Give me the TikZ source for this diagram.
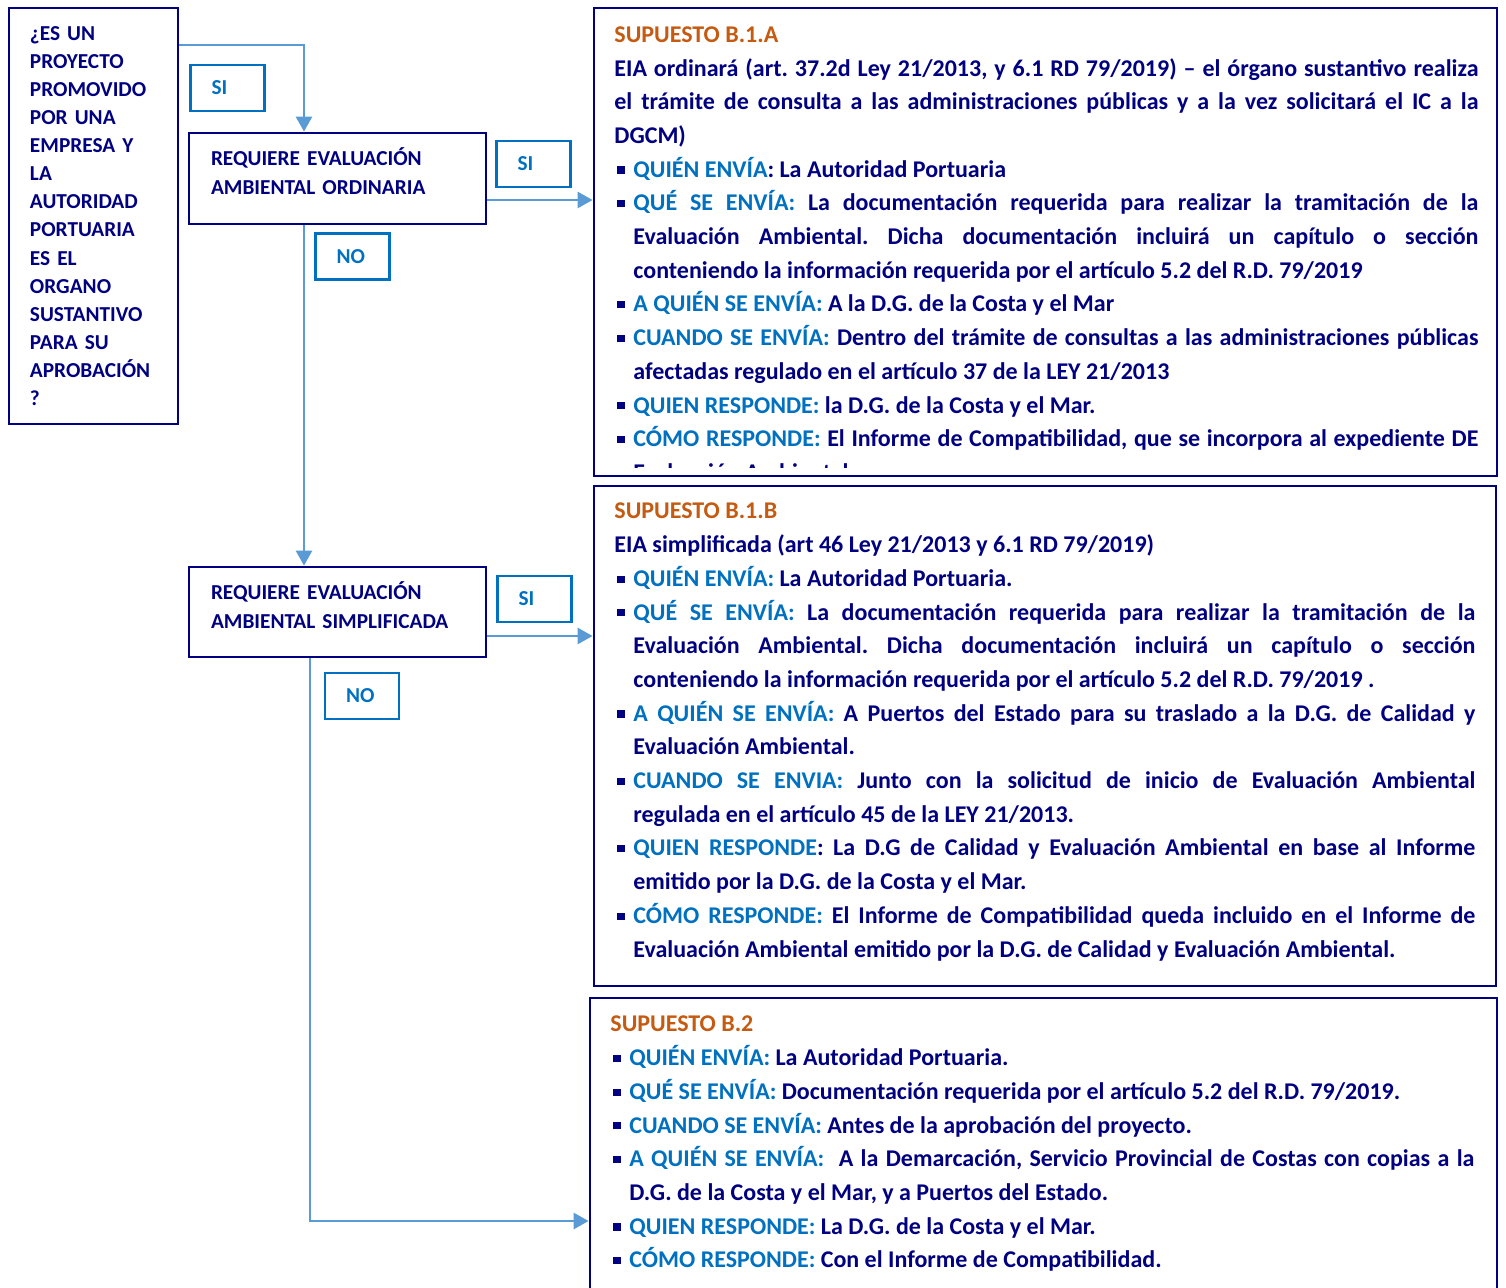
\documentclass[tikz,border=0pt]{standalone}
\usepackage{fontspec}
\setmainfont{Carlito}
\usepackage{xcolor}
\usetikzlibrary{arrows.meta}
\usetikzlibrary{math}
\definecolor{mynavy}{RGB}{0,0,128}
\definecolor{myblue}{RGB}{0,112,192}
\definecolor{myorange}{RGB}{197,90,17}
\definecolor{myarrow}{RGB}{91,155,213}

\newcommand{\casesetup}{\frenchspacing\tolerance=10000\hbadness=10000\hyphenpenalty=10000\exhyphenpenalty=10000\parindent=0pt}
\newcommand{\casetitle}[1]{\strut\textcolor{myorange}{#1}\par}
\newcommand{\caseitem}[1]{\par\hangindent=9.5pt\hangafter=0\noindent\llap{\rule[1.8pt]{3.6pt}{3.6pt}\hspace{4.4pt}}\textcolor{myblue}{#1}}

\begin{document}
\begin{tikzpicture}[x=0.5pt,y=-0.5pt,
  qbox/.style={draw=mynavy, line width=1.4pt, text=mynavy, font=\bfseries\fontsize{10.65}{14.05}\selectfont, align=left, inner xsep=10.5pt},
  reqbox/.style={draw=mynavy, line width=1.4pt, text=mynavy, font=\bfseries\fontsize{10.65}{14.5}\selectfont, align=left, inner xsep=11pt, text width=126.5pt},
  answer/.style={draw=myblue, line width=1.2pt, text=myblue, font=\bfseries\fontsize{10.65}{13}\selectfont, align=left, text width=16pt, inner xsep=10.5pt, minimum height=23pt},
  casebox/.style={draw=mynavy, line width=1.4pt},
  casetext/.style={anchor=north west, inner sep=0pt, text=mynavy, font=\bfseries\fontsize{12}{16.85}\selectfont, align=justify},
  flow/.style={draw=myarrow, line width=1.4pt, -{Triangle[length=7.5pt,width=8pt]}}
]
\tikzmath{
\colA=304;
\colB=310;
\rowA=45;
\rowB=200;
\rowC=636;
\rowD=1221;
}
\useasboundingbox (0,0) rectangle (1506,1288);

% left column
\node[qbox, text width=63.5pt, minimum height=208pt] (quest) at (93.5,216) {¿ES UN\\ PROYECTO\\ PROMOVIDO\\ POR UNA\\ EMPRESA Y\\ LA\\ AUTORIDAD\\ PORTUARIA\\ ES EL\\ ORGANO\\ SUSTANTIVO\\ PARA SU\\ APROBACIÓN\\ ?};
\node[reqbox, minimum width=148.5pt, minimum height=45.5pt] (ord) at (337.5,178.5) {REQUIERE EVALUACIÓN\\ AMBIENTAL ORDINARIA\par\vspace*{7pt}};
\node[reqbox, minimum width=147.5pt, minimum height=45pt] (simp) at (337.5,612) {REQUIERE EVALUACIÓN\\ AMBIENTAL SIMPLIFICADA\par\vspace*{7pt}};

\node[answer] (si1) at (227.5,88) {SI};
\node[answer] (si2) at (533.5,164) {SI};
\node[answer] (no1) at (352.5,256.5) {NO};
\node[answer] (si3) at (534.5,599) {SI};
\node[answer] (no2) at (362,696) {NO};

% right column
\node[casebox, minimum width=451.5pt, minimum height=234pt] (b1a) at (1045.5,242) {};
\node[casebox, minimum width=451pt, minimum height=250pt] (b1b) at (1045,736) {};
\node[casebox, minimum width=453.5pt, minimum height=151pt] (b2) at (1043.5,1149) {};

\begin{scope}
\clip (594,8) rectangle (1497,468);
\node[casetext, text width=432pt] (t1a) at (614,18.4) {\casesetup\casetitle{SUPUESTO B.1.A}
EIA ordinará (art. 37.2d Ley 21/2013, y 6.1 RD 79/2019) – el órgano sustantivo realiza\linebreak el trámite de consulta a las administraciones públicas y a la vez solicitará el IC a la\linebreak DGCM)
\caseitem{QUIÉN ENVÍA}: La Autoridad Portuaria
\caseitem{QUÉ SE ENVÍA:} La documentación requerida para realizar la tramitación de la\linebreak Evaluación Ambiental. Dicha documentación incluirá un capítulo o sección\linebreak conteniendo la información requerida por el artículo 5.2 del R.D. 79/2019
\caseitem{A QUIÉN SE ENVÍA:} A la D.G. de la Costa y el Mar
\caseitem{CUANDO SE ENVÍA:} Dentro del trámite de consultas a las administraciones públicas\linebreak afectadas regulado en el artículo 37 de la LEY 21/2013
\caseitem{QUIEN RESPONDE:} la D.G. de la Costa y el Mar.
\caseitem{CÓMO RESPONDE:} El Informe de Compatibilidad, que se incorpora al expediente DE\linebreak Evaluación Ambiental.\par};
\end{scope}

\node[casetext, text width=430.5pt] (t1b) at (614,495) {\casesetup\casetitle{SUPUESTO B.1.B}
EIA simplificada (art 46 Ley 21/2013 y 6.1 RD 79/2019)
\caseitem{QUIÉN ENVÍA:} La Autoridad Portuaria.
\caseitem{QUÉ SE ENVÍA:} La documentación requerida para realizar la tramitación de la\linebreak Evaluación Ambiental. Dicha documentación incluirá un capítulo o sección\linebreak conteniendo la información requerida por el artículo 5.2 del R.D. 79/2019 .
\caseitem{A QUIÉN SE ENVÍA:} A Puertos del Estado para su traslado a la D.G. de Calidad y\linebreak Evaluación Ambiental.
\caseitem{CUANDO SE ENVIA:} Junto con la solicitud de inicio de Evaluación Ambiental\linebreak regulada en el artículo 45 de la LEY 21/2013.
\caseitem{QUIEN RESPONDE}: La D.G de Calidad y Evaluación Ambiental en base al Informe\linebreak emitido por la D.G. de la Costa y el Mar.
\caseitem{CÓMO RESPONDE:} El Informe de Compatibilidad queda incluido en el Informe de\linebreak Evaluación Ambiental emitido por la D.G. de Calidad y Evaluación Ambiental.\par};

\node[casetext, text width=432pt] (t2) at (610,1008) {\casesetup\casetitle{SUPUESTO B.2}
\caseitem{QUIÉN ENVÍA:} La Autoridad Portuaria.
\caseitem{QUÉ SE ENVÍA:} Documentación requerida por el artículo 5.2 del R.D. 79/2019.
\caseitem{CUANDO SE ENVÍA:} Antes de la aprobación del proyecto.
\caseitem{A QUIÉN SE ENVÍA:}\ \ A la Demarcación, Servicio Provincial de Costas con copias a la\linebreak D.G. de la Costa y el Mar, y a Puertos del Estado.
\caseitem{QUIEN RESPONDE:} La D.G. de la Costa y el Mar.
\caseitem{CÓMO RESPONDE:} Con el Informe de Compatibilidad.\par};

% connectors
\coordinate (k1) at (\colA,\rowA);
\draw[flow] (k1 -| quest.east) -- (k1) -- (k1 |- ord.north);
\coordinate (k2) at (540,\rowB);
\draw[flow] (k2 -| ord.east) -- (k2 -| b1a.west);
\coordinate (k3) at (\colA,400);
\draw[flow] (k3 |- ord.south) -- (k3 |- simp.north);
\coordinate (k4) at (540,\rowC);
\draw[flow] (k4 -| simp.east) -- (k4 -| b1b.west);
\coordinate (k5) at (\colB,\rowD);
\draw[flow] (k5 |- simp.south) -- (k5) -- (k5 -| b2.west);
\end{tikzpicture}
\end{document}
